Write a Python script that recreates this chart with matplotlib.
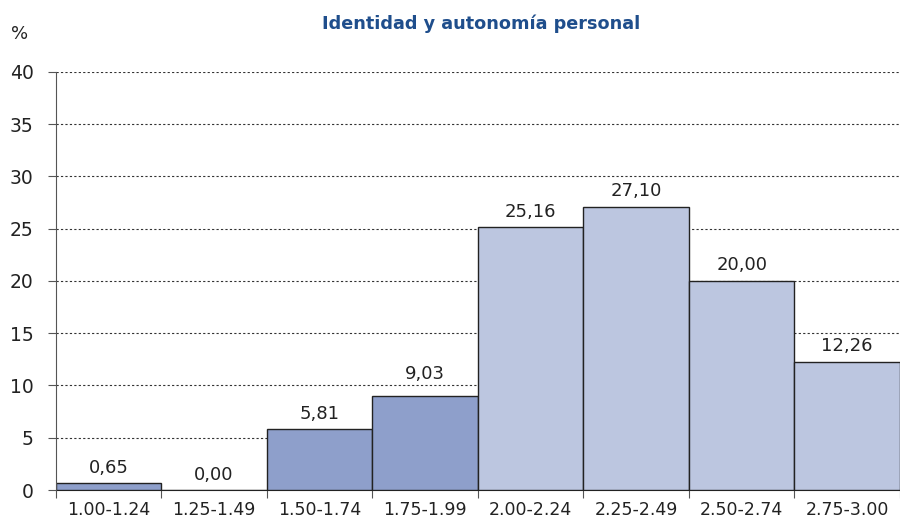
import math
import matplotlib.pyplot as plt

# data
categories = ['1.00-1.24', '1.25-1.49', '1.50-1.74', '1.75-1.99',
              '2.00-2.24', '2.25-2.49', '2.50-2.74', '2.75-3.00']
percentages = [0.65, 0.00, 5.81, 9.03, 25.16, 27.10, 20.00, 12.26]
value_labels = ['0,65', '0,00', '5,81', '9,03', '25,16', '27,10', '20,00', '12,26']
dark_bars = 4  # first four bars are the darker shade

plt.rcParams['font.family'] = ['DejaVu Sans']

fig = plt.figure(figsize=(9, 5.21), dpi=100)
ax = fig.add_axes([0.062, 0.0595, 0.938, 0.8025])

colors = ['#8e9fcb' if i < dark_bars else '#bcc6e0' for i in range(len(categories))]
x = list(range(len(categories)))
bars = ax.bar(x, percentages, width=1.0, color=colors, edgecolor='#222222', linewidth=1.0, zorder=3)

grid_step = 5
for bar, lab in zip(bars, value_labels):
    h = bar.get_height()
    base = h + 1.0
    # keep the label clear of a grid line, like the original does
    g = math.ceil(h / grid_step) * grid_step
    if g == h:
        g += grid_step
    if h < g < base + 1.4:
        base = g + 0.6
    ax.text(bar.get_x() + bar.get_width() / 2, base, lab,
            ha='center', va='baseline', fontsize=13, color='#222222', zorder=4)

ax.set_xlim(-0.5, len(categories) - 0.5)
ax.set_ylim(0, 40)
ax.set_yticks(range(0, 41, 5))
ax.tick_params(axis='y', labelsize=13.5, length=6, color='#555555', pad=10, labelcolor='#222222')

# ticks at the category boundaries, labels centred under the bars
ax.set_xticks([i - 0.5 for i in range(len(categories) + 1)])
ax.set_xticklabels([])
ax.set_xticks(x, minor=True)
ax.set_xticklabels(categories, minor=True, fontsize=12.5, color='#222222')
ax.tick_params(axis='x', which='major', length=6, color='#555555')
ax.tick_params(axis='x', which='minor', length=0, pad=8)

for y in range(grid_step, 41, grid_step):
    ax.axhline(y, color='#333333', linestyle=(0, (2, 2)), linewidth=0.8, zorder=1)

for s in ['top', 'right']:
    ax.spines[s].set_visible(False)
ax.spines['left'].set_color('#555555')
ax.spines['bottom'].set_color('#222222')
ax.spines['left'].set_zorder(5)

fig.text(0.535, 0.955, 'Identidad y autonomía personal', ha='center', va='center',
         fontsize=12.7, fontweight='bold', color='#1f4e8c')
fig.text(0.022, 0.935, '%', ha='center', va='center', fontsize=13, color='#222222')

fig.savefig('out.png', dpi=100)
